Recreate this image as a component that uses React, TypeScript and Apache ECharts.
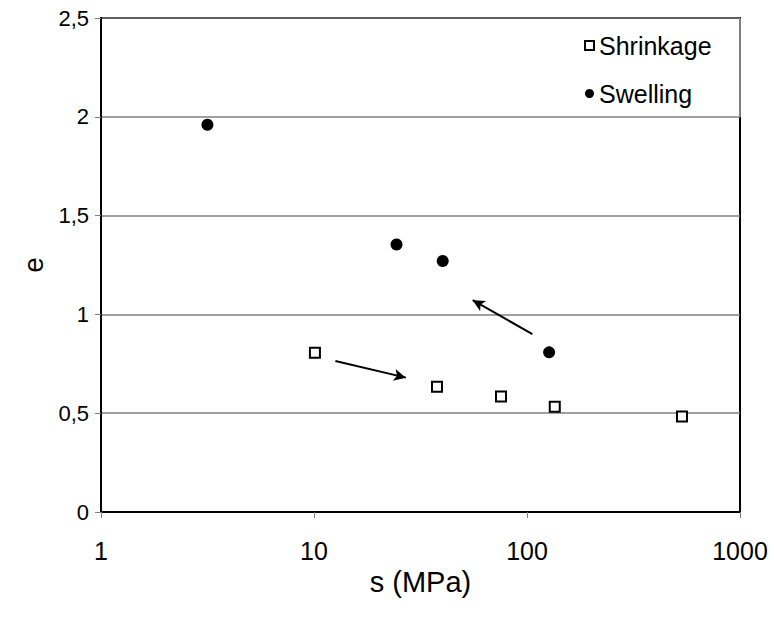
import React, { useEffect, useRef } from "react";
import * as echarts from "echarts";

// Suction s (MPa) against void ratio e
const shrinkageS = [10.1, 37.8, 75.5, 135, 534];
const shrinkageE = [0.806, 0.634, 0.584, 0.533, 0.483];

const swellingS = [3.16, 24.4, 40.2, 127];
const swellingE = [1.96, 1.354, 1.27, 0.808];

// Direction arrows: [start s, start e, end s, end e]
const shrinkageArrow = [12.6, 0.764, 27.0, 0.68];
const swellingArrow = [106, 0.9, 55.6, 1.072];

const yTicks = [0, 0.5, 1, 1.5, 2, 2.5];

const FONT = "Liberation Sans, Arial, sans-serif";

export default function App() {
  const ref = useRef<HTMLDivElement>(null);

  useEffect(() => {
    if (!ref.current) return;
    const chart = echarts.init(ref.current, null, { renderer: "svg" });

    const arrowLine = (a: number[]) => [
      { coord: [a[0], a[1]] },
      { coord: [a[2], a[3]] },
    ];

    chart.setOption({
      animation: false,
      backgroundColor: "#ffffff",
      textStyle: { fontFamily: FONT },
      grid: {
        left: 101,
        right: 34,
        top: 18,
        bottom: 105,
        show: true,
        borderColor: "#000000",
        borderWidth: 2,
        backgroundColor: "transparent",
      },
      legend: {
        orient: "vertical",
        left: 579,
        top: 28,
        itemGap: 23,
        itemWidth: 9,
        itemHeight: 9,
        textStyle: { fontFamily: FONT, fontSize: 25, color: "#000000" },
        data: ["Shrinkage", "Swelling"],
      },
      graphic: [
        {
          // legend box edge along the right side of the plot
          type: "line",
          shape: { x1: 740, y1: 18, x2: 740, y2: 117 },
          style: { stroke: "#808080", lineWidth: 2 },
          z: 10,
        },
      ],
      xAxis: {
        type: "log",
        logBase: 10,
        min: 1,
        max: 1000,
        name: "s (MPa)",
        nameLocation: "middle",
        nameGap: 51,
        nameTextStyle: { fontFamily: FONT, fontSize: 29, color: "#000000" },
        axisLine: { show: true, lineStyle: { color: "#000000", width: 2 } },
        axisTick: { show: true, length: 6, lineStyle: { color: "#808080", width: 1 } },
        minorTick: { show: false },
        splitLine: { show: false },
        axisLabel: {
          margin: 26,
          fontFamily: FONT,
          fontSize: 25,
          color: "#000000",
          formatter: (v: number) => String(Math.round(v)),
        },
      },
      yAxis: {
        type: "value",
        min: yTicks[0],
        max: yTicks[yTicks.length - 1],
        interval: 0.5,
        name: "e",
        nameLocation: "middle",
        nameGap: 43,
        nameTextStyle: { fontFamily: FONT, fontSize: 28, color: "#000000" },
        axisLine: { show: true, lineStyle: { color: "#000000", width: 2 } },
        axisTick: { show: true, length: 6, lineStyle: { color: "#808080", width: 1 } },
        splitLine: { show: true, lineStyle: { color: "#808080", width: 1.5 } },
        axisLabel: {
          margin: 12,
          fontFamily: FONT,
          fontSize: 22,
          color: "#000000",
          formatter: (v: number) => String(v).replace(".", ","),
        },
      },
      series: [
        {
          name: "Shrinkage",
          type: "scatter",
          symbol: "rect",
          symbolSize: 10,
          itemStyle: {
            color: "#ffffff",
            borderColor: "#000000",
            borderWidth: 2,
            opacity: 1,
          },
          data: shrinkageS.map((s, i) => [s, shrinkageE[i]]),
          markLine: {
            silent: true,
            symbol: ["none", "arrow"],
            symbolSize: [9, 12],
            label: { show: false },
            lineStyle: { color: "#000000", width: 2, type: "solid", opacity: 1 },
            data: [arrowLine(shrinkageArrow)],
          },
        },
        {
          name: "Swelling",
          type: "scatter",
          symbol: "circle",
          symbolSize: 12,
          itemStyle: { color: "#000000", opacity: 1 },
          data: swellingS.map((s, i) => [s, swellingE[i]]),
          markLine: {
            silent: true,
            symbol: ["none", "arrow"],
            symbolSize: [9, 12],
            label: { show: false },
            lineStyle: { color: "#000000", width: 2, type: "solid", opacity: 1 },
            data: [arrowLine(swellingArrow)],
          },
        },
      ],
    });

    return () => chart.dispose();
  }, []);

  return (
    <div
      ref={ref}
      style={{ position: "absolute", left: 0, top: 0, width: 774, height: 617 }}
    />
  );
}
